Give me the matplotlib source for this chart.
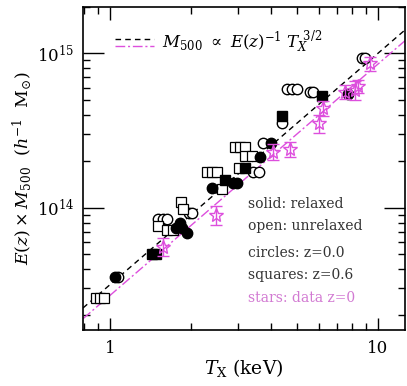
import numpy as np
import matplotlib
matplotlib.use("Agg")
import matplotlib.pyplot as plt
from matplotlib.lines import Line2D
from matplotlib.ticker import FixedLocator, FixedFormatter, NullFormatter

plt.rcParams['font.family'] = ['DejaVu Serif']
plt.rcParams['mathtext.fontset'] = 'dejavuserif'

# Simulated clusters, z=0 (circles)
circ_relaxed_T = [1.04, 1.77, 1.82, 1.85, 1.93, 2.40, 2.88, 2.98, 3.63, 3.98, 7.75]
circ_relaxed_M = [3.57e13, 7.4e13, 7.95e13, 7.35e13, 6.88e13, 1.35e14, 1.45e14,
                  1.45e14, 2.13e14, 2.64e14, 5.43e14]
circ_unrelaxed_T = [1.07, 1.51, 1.58, 1.63, 1.97, 2.02, 3.42, 3.60, 3.73, 4.37,
                    4.57, 4.76, 4.97, 5.57, 5.73, 8.69, 8.94]
circ_unrelaxed_M = [3.57e13, 8.45e13, 8.45e13, 8.45e13, 9.3e13, 9.3e13, 1.71e14,
                    1.71e14, 2.61e14, 3.52e14, 5.84e14, 5.84e14, 5.84e14, 5.6e14,
                    5.6e14, 9.29e14, 9.29e14]

# Simulated clusters, z=0.6 (squares)
sq_relaxed_T = [1.43, 1.48, 2.69, 3.19, 4.37, 6.17]
sq_relaxed_M = [5.01e13, 5.01e13, 1.51e14, 1.82e14, 3.93e14, 5.32e14]
sq_unrelaxed_T = [0.89, 0.92, 0.95, 2.30, 2.40, 2.51, 2.93, 3.06, 3.19, 3.19, 3.39,
                  3.03, 2.61, 1.84, 1.87, 1.51, 1.63, 1.72]
sq_unrelaxed_M = [2.61e13, 2.61e13, 2.61e13, 1.70e14, 1.70e14, 1.70e14, 2.48e14,
                  2.48e14, 2.48e14, 2.17e14, 2.17e14, 1.82e14, 1.32e14, 1.09e14,
                  9.77e13, 7.6e13, 7.2e13, 7.2e13]

# Observed clusters, z=0 (stars)
star_T = [1.58, 2.49, 4.05, 4.69, 6.04, 6.22, 7.53, 8.21, 8.45, 9.33]
star_M = [5.58e13, 8.97e13, 2.31e14, 2.39e14, 3.52e14, 4.40e14, 5.65e14, 5.80e14,
          6.15e14, 8.63e14]
star_err = [0.75e13, 1.25e13, 0.28e14, 0.26e14, 0.45e14, 0.5e14, 0.6e14, 0.8e14,
            0.6e14, 0.9e14]

# Self-similar normalisations (M500 at T_X = 1 keV)
norm_sim = 3.17e13
norm_obs = 2.70e13

x_ticks = [1, 10]
x_ticklabels = ['1', '10']

info_lines = ["solid: relaxed", "open: unrelaxed", "circles: z=0.0",
              "squares: z=0.6", "stars: data z=0"]

mag = '#dd4fdd'

fig = plt.figure(figsize=(4.07, 3.86), dpi=100)
ax = fig.add_axes([0.204, 0.145, 0.791, 0.837])
ax.set_xscale('log')
ax.set_yscale('log')
ax.set_xlim(0.793, 12.6)
ax.set_ylim(1.61e13, 2.0e15)

tt = np.logspace(np.log10(0.793), np.log10(12.6), 50)
ax.plot(tt, norm_sim * tt**1.5, color='black', ls=(0, (4, 3)), lw=1.0, zorder=2)
ax.plot(tt, norm_obs * tt**1.5, color=mag, ls=(0, (7, 2, 1.5, 2)), lw=1.0, zorder=2)

ms_c = 7.5
ms_s = 6.5
ax.plot(circ_unrelaxed_T, circ_unrelaxed_M, 'o', ms=ms_c, mfc='white', mec='black',
        mew=1.0, ls='none', zorder=3)
ax.plot(sq_unrelaxed_T, sq_unrelaxed_M, 's', ms=ms_s, mfc='white', mec='black',
        mew=0.9, ls='none', zorder=3)
ax.plot(circ_relaxed_T, circ_relaxed_M, 'o', ms=ms_c, mfc='black', mec='black',
        ls='none', zorder=4)
ax.plot(sq_relaxed_T, sq_relaxed_M, 's', ms=ms_s, mfc='black', mec='black',
        ls='none', zorder=4)
ax.errorbar(star_T, star_M, yerr=star_err, fmt='*', ms=10, mfc='none', mec=mag,
            mew=1.0, ecolor=mag, elinewidth=1.0, capsize=4, capthick=1.0, zorder=5)

# Legend for the scaling relations
ax.add_line(Line2D([0.10, 0.22], [0.90, 0.90], transform=ax.transAxes,
                   color='black', ls=(0, (4, 3)), lw=1.0))
ax.add_line(Line2D([0.10, 0.22], [0.88, 0.88], transform=ax.transAxes,
                   color=mag, ls=(0, (7, 2, 1.5, 2)), lw=1.0))
ax.text(0.245, 0.89, r'$M_{500}\ \propto\ E(z)^{-1}\ T_X^{\ 3/2}$',
        transform=ax.transAxes, fontsize=12, va='center', ha='left')

ys = [204, 226, 253, 275, 298]
for txt, yp in zip(info_lines, ys):
    col = '#d27ad2' if txt.startswith('stars') else '#333333'
    ax.text(248, 386 - yp, txt, transform=None, fontsize=10, color=col,
            va='center', ha='left')

ax.xaxis.set_major_locator(FixedLocator(x_ticks))
ax.xaxis.set_major_formatter(FixedFormatter(x_ticklabels))
ax.xaxis.set_minor_formatter(NullFormatter())

ax.tick_params(which='both', direction='in', top=True, right=True, width=1.0,
               labelsize=12)
ax.tick_params(axis='x', which='major', length=9, pad=7)
ax.tick_params(axis='y', which='major', length=15, pad=6)
ax.tick_params(which='minor', length=5)
for s in ax.spines.values():
    s.set_linewidth(1.2)

ax.set_xlabel(r'$T_{\rm X}$ (keV)', fontsize=13.5, labelpad=0)
ax.set_ylabel(r'$E(z)\times M_{500}\ \ (h^{-1}\ \ \mathrm{M}_{\odot})$', fontsize=12.5,
              labelpad=2)

fig.savefig('out.png', dpi=100)
